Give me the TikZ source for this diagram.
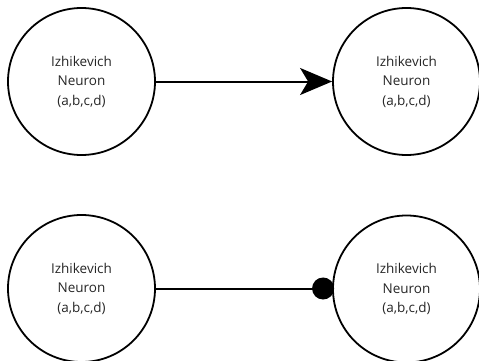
\documentclass[tikz,border=0pt]{standalone}
\usepackage{fontspec}
\setmainfont{Open Sans}
\usetikzlibrary{arrows.meta}
\begin{document}
\begin{tikzpicture}[x=1pt,y=1pt,
  neuron/.style={draw=black,line width=1.8pt,circle,minimum size=147pt,inner sep=0pt,
    align=center,font=\fontsize{13.5}{19.5}\selectfont,text=black!85},
  conn/.style={line width=2pt,draw=black}]
\useasboundingbox (0,0) rectangle (479,-361);
\node[neuron] (n1) at (81.5,-81.5) {Izhikevich\\Neuron\\(a,b,c,d)};
\node[neuron] (n2) at (406.5,-81.5) {Izhikevich\\Neuron\\(a,b,c,d)};
\node[neuron] (n3) at (81.5,-288.5) {Izhikevich\\Neuron\\(a,b,c,d)};
\node[neuron] (n4) at (406.5,-289) {Izhikevich\\Neuron\\(a,b,c,d)};
\draw[conn,-{Stealth[length=32pt,width=27pt,inset=8pt]}] (n1) -- (n2);
\draw[conn,-{Circle[length=22pt]},shorten >=-2pt] (n3.east) -- (n3.east -| n4.west);
\end{tikzpicture}
\end{document}
